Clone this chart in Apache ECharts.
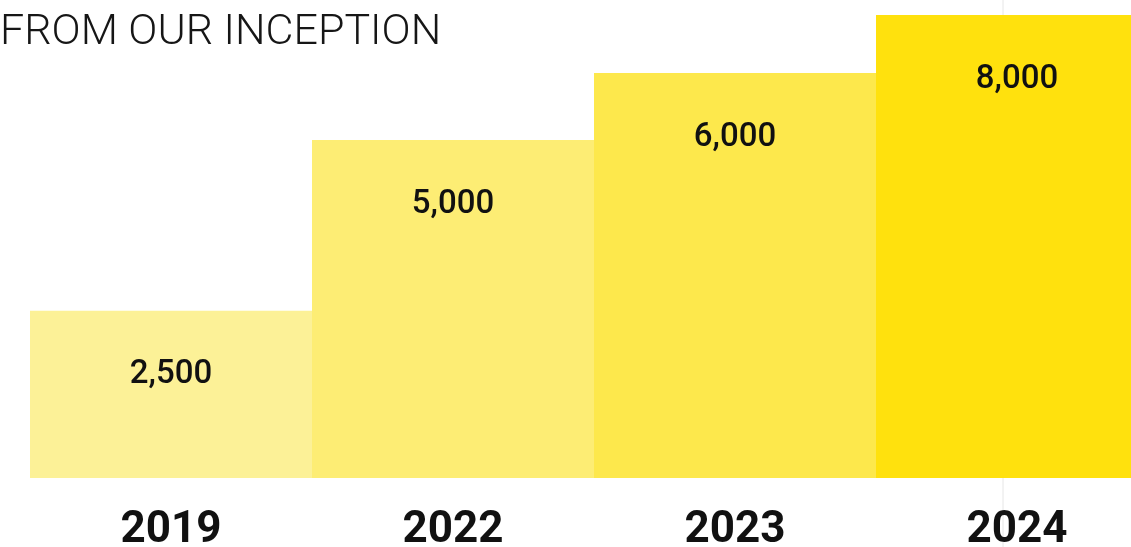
<!DOCTYPE html>
<html>
<head>
<meta charset="utf-8">
<script src="https://cdn.jsdelivr.net/npm/echarts@6/dist/echarts.min.js"></script>
<style>html,body{margin:0;padding:0;background:#fff;}#c{width:1131px;height:547px;}</style>
</head>
<body>
<div id="c"></div>
<script>
const titleText = 'FROM OUR INCEPTION';
const years = ['2019', '2022', '2023', '2024'];
const valueLabels = ['2,500', '5,000', '6,000', '8,000'];
// bar heights as drawn in the picture (same scale as the 8,000 bar)
const barHeights = [2890, 5840, 7000, 8000];
const barColors = ['#fcf197', '#fded74', '#fde84c', '#ffe10d'];

const chart = echarts.init(document.getElementById('c'), null, {renderer: 'canvas'});
chart.setOption({
  animation: false,
  backgroundColor: '#ffffff',
  title: {
    text: titleText,
    left: -5, top: 7,
    textStyle: {fontFamily: 'Roboto', fontWeight: 300, fontSize: 43, color: '#161616'}
  },
  graphic: [{
    type: 'line', z: -10,
    shape: {x1: 1003, y1: 0, x2: 1003, y2: 547},
    style: {stroke: '#e6e6e6', lineWidth: 1}
  }],
  grid: {left: 30, right: -27, top: 15, bottom: 69, outerBoundsMode: 'none', containLabel: false},
  xAxis: {
    type: 'category',
    data: years,
    axisLine: {show: false}, axisTick: {show: false},
    axisLabel: {margin: 31, fontFamily: 'Roboto', fontWeight: 'bold', fontSize: 44, color: '#111'}
  },
  yAxis: {
    type: 'value', min: 0, max: 8000, show: false,
    splitLine: {show: false}
  },
  series: [{
    type: 'bar',
    barWidth: '100%',
    data: barHeights.map((h, i) => ({value: h, itemStyle: {color: barColors[i]}})),
    label: {
      show: true, position: 'insideTop', distance: 48,
      formatter: p => valueLabels[p.dataIndex],
      fontFamily: 'Roboto', fontWeight: 500, fontSize: 33, color: '#111'
    }
  }]
});
</script>
</body>
</html>
